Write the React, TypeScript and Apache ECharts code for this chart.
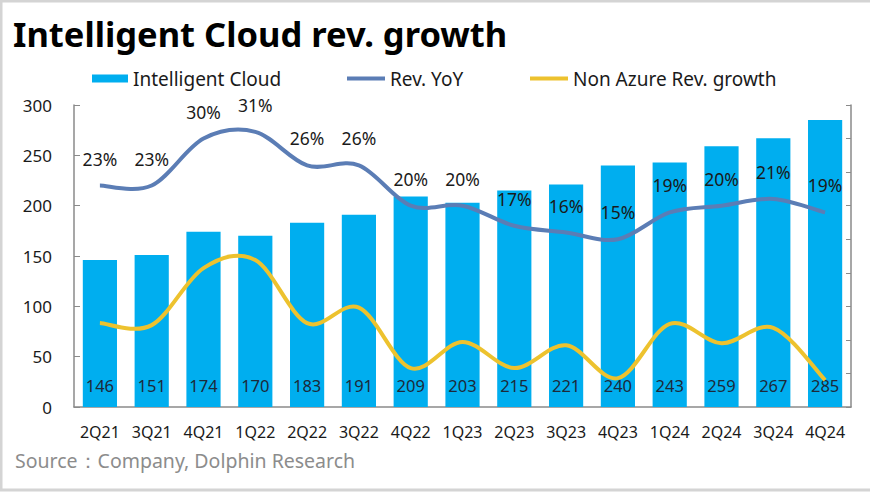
import React, { useEffect, useRef } from "react";
import * as echarts from "echarts";

const categories = ["2Q21","3Q21","4Q21","1Q22","2Q22","3Q22","4Q22","1Q23","2Q23","3Q23","4Q23","1Q24","2Q24","3Q24","4Q24"];
const cloudRevenue = [146,151,174,170,183,191,209,203,215,221,240,243,259,267,285];
const revYoY = [23,23,30,31,26,26,20,20,17,16,15,19,20,21,19];
const nonAzureGrowth = [2.5,2.2,10.7,11.9,2.5,4.8,-4.2,-0.3,-4.2,-0.8,-5.7,2.4,-0.5,1.8,-6.0];
const leftTicks = { min: 0, max: 300, interval: 50 };
const rightTicks = { min: -10, max: 35, interval: 5 };

const FONT = "'Noto Sans', 'Open Sans', sans-serif";
const BAR_COLOR = "#00AEEF";
const YOY_COLOR = "#5B7DB5";
const NONAZ_COLOR = "#EDC22E";

function smoothPath(pts: number[][]): string {
  let d = `M${pts[0][0]},${pts[0][1]}`;
  for (let i = 0; i < pts.length - 1; i++) {
    const p0 = pts[i - 1] || pts[i];
    const p1 = pts[i];
    const p2 = pts[i + 1];
    const p3 = pts[i + 2] || p2;
    const c1x = p1[0] + (p2[0] - p0[0]) / 6;
    const c1y = p1[1] + (p2[1] - p0[1]) / 6;
    const c2x = p2[0] - (p3[0] - p1[0]) / 6;
    const c2y = p2[1] - (p3[1] - p1[1]) / 6;
    d += ` C${c1x},${c1y} ${c2x},${c2y} ${p2[0]},${p2[1]}`;
  }
  return d;
}

function curveSeries(name: string, values: number[], color: string, withLabels: boolean) {
  return {
    name,
    type: "custom",
    yAxisIndex: 1,
    data: values.map((v, i) => [i, v]),
    encode: { x: 0, y: 1 },
    itemStyle: { color },
    z: 3,
    renderItem: (params: any, api: any) => {
      const idx = params.dataIndex;
      const children: any[] = [];
      if (idx === 0) {
        const pts = values.map((v, i) => api.coord([i, v]));
        children.push({
          type: "path",
          shape: { pathData: smoothPath(pts) },
          style: { stroke: color, lineWidth: 4, fill: "none" },
          z2: 1,
        });
      }
      if (withLabels) {
        const p = api.coord([idx, api.value(1)]);
        children.push({
          type: "text",
          x: p[0],
          y: p[1] - 27,
          z2: 10,
          style: {
            text: `${Math.round(api.value(1))}%`,
            align: "center",
            verticalAlign: "middle",
            fontSize: 17.5,
            fill: "#1a1a1a",
            fontFamily: FONT,
          },
        });
      }
      return { type: "group", children };
    },
  };
}

export default function App() {
  const ref = useRef<HTMLDivElement>(null);
  useEffect(() => {
    document.body.style.margin = "0";
    const chart = echarts.init(ref.current!, null, { renderer: "svg" });
    const legendText = { fontSize: 19, color: "#1a1a1a", fontFamily: FONT };
    chart.setOption({
      animation: false,
      backgroundColor: "#ffffff",
      textStyle: { fontFamily: FONT },
      title: {
        text: "Intelligent Cloud rev. growth",
        left: 8,
        top: 11,
        textStyle: { fontSize: 34.5, fontWeight: "bold", color: "#000", fontFamily: FONT },
      },
      graphic: [
        {
          type: "rect",
          shape: { x: 1, y: 1, width: 880, height: 489 },
          style: { fill: "none", stroke: "#d4d4d4", lineWidth: 3 },
          silent: true,
        },
        {
          type: "text",
          left: 15,
          top: 450,
          style: { text: "Source：Company, Dolphin Research", fontSize: 19.5, fill: "#8c8c8c", fontFamily: FONT },
        },
      ],
      legend: [
        {
          left: 87, top: 64, data: [{ name: "Intelligent Cloud", itemStyle: { color: BAR_COLOR } }], icon: "rect",
          itemWidth: 36, itemHeight: 8, textStyle: legendText,
        },
        {
          left: 342, top: 64, data: [{ name: "Rev. YoY", itemStyle: { color: YOY_COLOR } }], icon: "rect",
          itemWidth: 38, itemHeight: 4, textStyle: legendText,
        },
        {
          left: 525, top: 64, data: [{ name: "Non Azure Rev. growth", itemStyle: { color: NONAZ_COLOR } }], icon: "rect",
          itemWidth: 38, itemHeight: 4, textStyle: legendText,
        },
      ],
      grid: { left: 74, right: 19, top: 105, bottom: 85 },
      xAxis: {
        type: "category",
        data: categories,
        axisLine: { lineStyle: { color: "#8a8a8a", width: 1.5 } },
        axisTick: { show: false },
        axisLabel: { interval: 0, fontSize: 16, color: "#1a1a1a", margin: 17, fontFamily: FONT },
      },
      yAxis: [
        {
          type: "value",
          ...leftTicks,
          axisLine: { show: true, lineStyle: { color: "#8a8a8a", width: 1.5 } },
          axisTick: { show: true, inside: true, length: 6, lineStyle: { color: "#8a8a8a" } },
          splitLine: { show: false },
          axisLabel: { fontSize: 17, color: "#1a1a1a", margin: 22, fontFamily: FONT },
        },
        {
          type: "value",
          ...rightTicks,
          position: "right",
          axisLine: { show: true, lineStyle: { color: "#8a8a8a", width: 1.5 } },
          axisTick: { show: true, inside: true, length: 5, lineStyle: { color: "#8a8a8a" } },
          splitLine: { show: false },
          axisLabel: { show: false },
        },
      ],
      series: [
        {
          name: "Intelligent Cloud",
          type: "bar",
          data: cloudRevenue,
          barWidth: "66%",
          itemStyle: { color: BAR_COLOR },
          label: {
            show: true,
            position: "insideBottom",
            distance: 13,
            fontSize: 16.5,
            color: "#1c2a3a",
            fontFamily: FONT,
          },
        },
        curveSeries("Rev. YoY", revYoY, YOY_COLOR, true),
        curveSeries("Non Azure Rev. growth", nonAzureGrowth, NONAZ_COLOR, false),
      ],
    });
    return () => chart.dispose();
  }, []);
  return <div ref={ref} style={{ width: 870, height: 492 }} />;
}
